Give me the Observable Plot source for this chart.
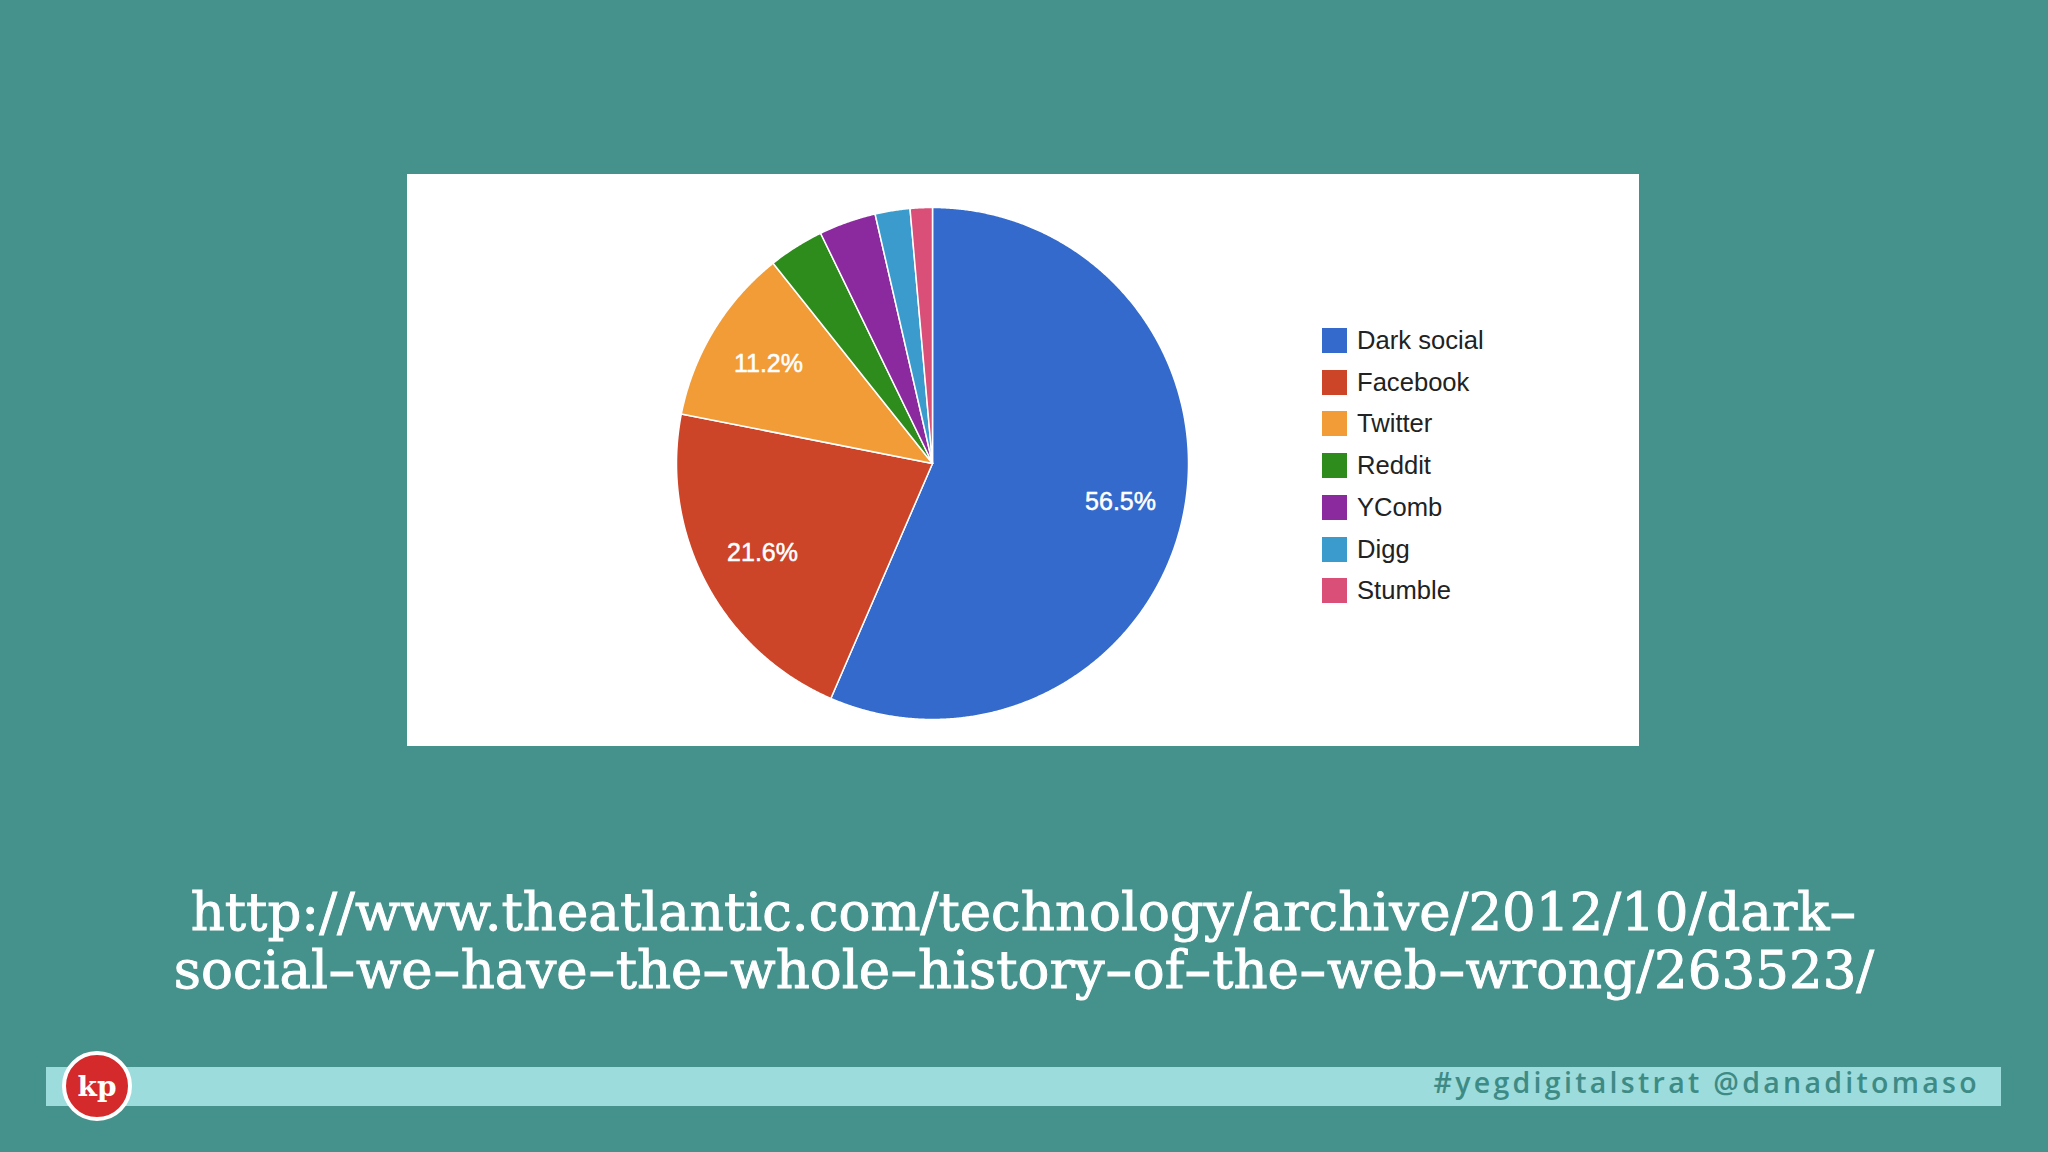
<!DOCTYPE html>
<html><head><meta charset="utf-8">
<script src="https://cdn.jsdelivr.net/npm/d3@7"></script>
<script src="https://cdn.jsdelivr.net/npm/@observablehq/plot@0.6"></script>
<style>
html,body{margin:0;padding:0;width:2048px;height:1152px;overflow:hidden;background:#45918c;}
#card{position:absolute;left:407px;top:174px;width:1232px;height:572px;background:#fff;}
#chart{position:absolute;left:652px;top:183px;width:560px;height:560px;}
#legend{position:absolute;left:1322px;top:319.6px;font-family:"Liberation Sans",Arial,sans-serif;font-size:25.6px;color:#222;}
#legend .row{display:flex;align-items:center;height:41.75px;}
#legend .sw{width:25px;height:25px;margin-right:10px;}
#url{position:absolute;left:0;top:883px;width:2048px;text-align:center;color:#fff;font-family:"DejaVu Serif",serif;font-size:53px;line-height:58px;-webkit-text-stroke:0.9px #fff;}
#url .hy{display:inline-block;transform:scaleX(1.6);margin:0 5px;}
#bar{position:absolute;left:46px;top:1067px;width:1955px;height:39px;background:#9ddcdc;}
#tag{position:absolute;right:68px;top:1062px;font-family:"Open Sans",sans-serif;font-weight:600;font-size:28.5px;letter-spacing:3.3px;color:#3e8b86;white-space:nowrap;line-height:40px;}
#logo{position:absolute;left:62px;top:1051px;width:62px;height:62px;border-radius:50%;background:#d42a2c;border:4px solid #fff;display:flex;align-items:center;justify-content:center;color:#fff;font-family:"DejaVu Serif",serif;font-weight:700;font-size:28px;}
</style>
</head><body>
<div id="card"></div>
<div id="chart"></div>
<div id="legend"></div>
<div id="url"></div>
<div id="bar"></div>
<div id="logo">kp</div>
<div id="tag"></div>
<script>
const categories = ["Dark social","Facebook","Twitter","Reddit","YComb","Digg","Stumble"];
const shares = [56.5, 21.6, 11.2, 3.5, 3.6, 2.2, 1.4];
const colors = ["#346acc","#cc4529","#f29c38","#2e8c1c","#8a2a9e","#3b9bcc","#d94f78"];
const urlLines = ["http://www.theatlantic.com/technology/archive/2012/10/dark-",
                  "social-we-have-the-whole-history-of-the-web-wrong/263523/"];
const footerTag = "#yegdigitalstrat @danaditomaso";

const rows = categories.map((name, i) => ({name, share: shares[i]}));
const arcs = d3.pie().sort(null).value(d => d.share)(rows);

const pts = [];
for (const a of arcs) {
  pts.push({name: a.data.name, x: 0, y: 0});
  const n = Math.max(2, Math.ceil((a.endAngle - a.startAngle) / 0.005));
  for (let k = 0; k <= n; k++) {
    const t = a.startAngle + (a.endAngle - a.startAngle) * k / n;
    pts.push({name: a.data.name, x: Math.sin(t), y: Math.cos(t)});
  }
}
const labels = arcs.filter(a => a.data.share >= 5).map(a => {
  const m = (a.startAngle + a.endAngle) / 2;
  return {x: 0.75 * Math.sin(m), y: 0.75 * Math.cos(m), text: d3.format(".1f")(a.data.share) + "%"};
});

const plot = Plot.plot({
  width: 560, height: 560,
  margin: 24,
  x: {domain: [-1, 1], axis: null},
  y: {domain: [-1, 1], axis: null},
  color: {domain: categories, range: colors},
  style: {background: "transparent", overflow: "visible"},
  marks: [
    Plot.line(pts, {x: "x", y: "y", z: "name", fill: "name", stroke: "#fff", strokeWidth: 1.5, curve: "linear-closed"}),
    Plot.text(labels, {x: "x", y: "y", text: "text", fill: "#fff", stroke: "#fff", strokeWidth: 0.5, fontSize: 25, fontFamily: "Liberation Sans, Arial, sans-serif"})
  ]
});
document.getElementById("chart").appendChild(plot);

const leg = document.getElementById("legend");
categories.forEach((c, i) => {
  const r = document.createElement("div"); r.className = "row";
  const s = document.createElement("div"); s.className = "sw"; s.style.background = colors[i];
  const t = document.createElement("span"); t.textContent = c;
  r.appendChild(s); r.appendChild(t); leg.appendChild(r);
});
const urlEl = document.getElementById("url");
urlLines.forEach(l => {
  const d = document.createElement("div");
  l.split("-").forEach((part, i) => {
    if (i > 0) { const h = document.createElement("span"); h.className = "hy"; h.textContent = "-"; d.appendChild(h); }
    d.appendChild(document.createTextNode(part));
  });
  urlEl.appendChild(d);
});
document.getElementById("tag").textContent = footerTag;
</script>
</body></html>
